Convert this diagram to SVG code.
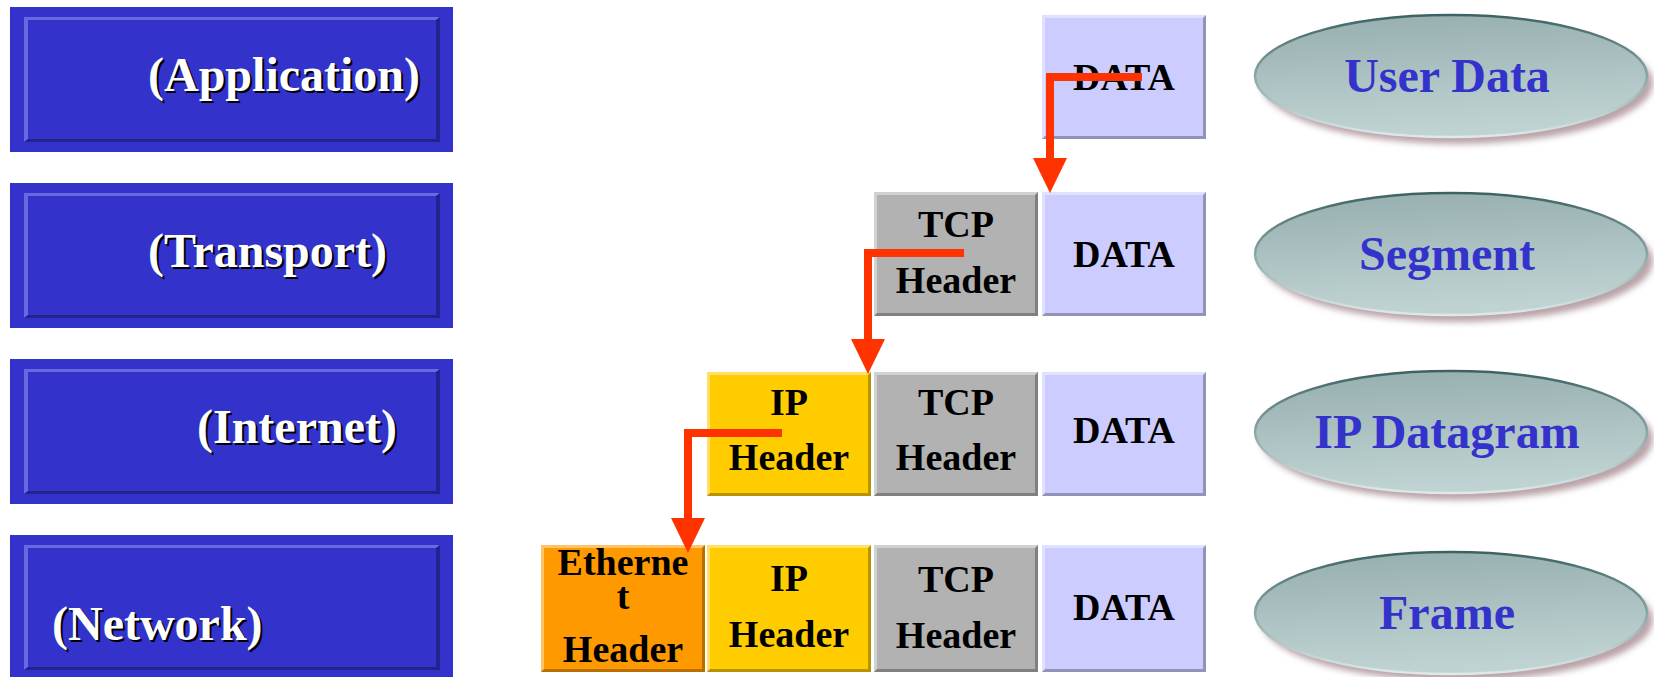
<svg xmlns="http://www.w3.org/2000/svg" xmlns:xlink="http://www.w3.org/1999/xlink" width="1654" height="677" viewBox="0 0 1654 677">
  <style>
    .layer-text { font-family: "Liberation Serif", "Times New Roman", serif; font-weight: bold; font-size: 48px; fill: #ffffff; }
    .layer-shadow { font-family: "Liberation Serif", "Times New Roman", serif; font-weight: bold; font-size: 48px; fill: #000000; }
    .cell-text { font-family: "Liberation Serif", "Times New Roman", serif; font-weight: bold; font-size: 38px; fill: #000000; text-anchor: middle; }
    .unit-text { font-family: "Liberation Serif", "Times New Roman", serif; font-weight: bold; font-size: 48px; fill: #3333cc; text-anchor: middle; }
    .data { fill: #ccccff; }
    .tcp { fill: #b2b2b2; }
    .ip { fill: #ffcc00; }
    .eth { fill: #ff9900; }
    .hi { fill: #ffffff; fill-opacity: 0.4; }
    .lo { fill: #000000; fill-opacity: 0.28; }
    .flow { fill: none; stroke: #ff3300; stroke-width: 8; marker-end: url(#head); }
  </style>
  <defs>
    <!-- layer box: blue panel with bevelled inner frame -->
    <g id="layerBox">
      <rect x="0" y="0" width="443" height="145" fill="#3333cc"/>
      <polygon points="14,10 430,10 427,13 18,13 18,132 14,135" fill="#6a6ae0"/>
      <polygon points="430,10 430,135 14,135 18,132 426,132 426,13" fill="#23238f"/>
    </g>
    <!-- bevel overlay for packet cells -->
    <g id="cellBevel">
      <polygon class="hi" points="0,0 164,0 161,3 3,3 3,121 0,124"/>
      <polygon class="lo" points="164,0 164,124 0,124 3,121 161,121 161,3"/>
    </g>
    <linearGradient id="ovalFill" x1="0" y1="0" x2="0.15" y2="1">
      <stop offset="0" stop-color="#96aeae"/>
      <stop offset="1" stop-color="#c0d3d3"/>
    </linearGradient>
    <linearGradient id="ovalRim" x1="0" y1="0" x2="0" y2="1">
      <stop offset="0" stop-color="#3e6262"/>
      <stop offset="0.5" stop-color="#8aa6a6"/>
      <stop offset="1" stop-color="#dfe9e9"/>
    </linearGradient>
    <filter id="soft" x="-10%" y="-20%" width="120%" height="140%">
      <feGaussianBlur stdDeviation="3"/>
    </filter>
    <g id="oval">
      <ellipse cx="6" cy="7" rx="196" ry="61" fill="#a88c92" opacity="0.8" filter="url(#soft)"/>
      <ellipse cx="0" cy="0" rx="196" ry="61" fill="url(#ovalFill)" stroke="url(#ovalRim)" stroke-width="2.5"/>
    </g>
    <marker id="head" markerUnits="userSpaceOnUse" viewBox="0 0 35 34" markerWidth="35" markerHeight="34" refX="0" refY="17" orient="auto">
      <path d="M0,0 L35,17 L0,34 Z" fill="#ff3300"/>
    </marker>
  </defs>

  <!-- protocol layers -->
  <g id="layer-application">
    <use xlink:href="#layerBox" x="10" y="7"/>
    <text class="layer-shadow" x="150" y="93">(Application)</text>
    <text class="layer-text" x="148" y="91">(Application)</text>
  </g>
  <g id="layer-transport">
    <use xlink:href="#layerBox" x="10" y="183"/>
    <text class="layer-shadow" x="150" y="269">(Transport)</text>
    <text class="layer-text" x="148" y="267">(Transport)</text>
  </g>
  <g id="layer-internet">
    <use xlink:href="#layerBox" x="10" y="359"/>
    <text class="layer-shadow" x="199" y="445">(Internet)</text>
    <text class="layer-text" x="197" y="443">(Internet)</text>
  </g>
  <g id="layer-network">
    <use xlink:href="#layerBox" x="10" y="535"/>
    <text class="layer-shadow" x="54" y="642">(Network)</text>
    <text class="layer-text" x="52" y="640">(Network)</text>
  </g>

  <!-- application row -->
  <g id="app-data">
    <rect class="data" x="1042" y="15" width="164" height="124"/>
    <use xlink:href="#cellBevel" x="1042" y="15"/>
    <text class="cell-text" x="1124" y="90">DATA</text>
  </g>

  <!-- transport row -->
  <g id="seg-tcp">
    <rect class="tcp" x="874" y="192" width="164" height="124"/>
    <use xlink:href="#cellBevel" x="874" y="192"/>
    <text class="cell-text" x="956" y="237">TCP</text>
    <text class="cell-text" x="956" y="293">Header</text>
  </g>
  <g id="seg-data">
    <rect class="data" x="1042" y="192" width="164" height="124"/>
    <use xlink:href="#cellBevel" x="1042" y="192"/>
    <text class="cell-text" x="1124" y="267">DATA</text>
  </g>

  <!-- internet row -->
  <g id="dgram-ip">
    <rect class="ip" x="707" y="372" width="164" height="124"/>
    <use xlink:href="#cellBevel" x="707" y="372"/>
    <text class="cell-text" x="789" y="415">IP</text>
    <text class="cell-text" x="789" y="470">Header</text>
  </g>
  <g id="dgram-tcp">
    <rect class="tcp" x="874" y="372" width="164" height="124"/>
    <use xlink:href="#cellBevel" x="874" y="372"/>
    <text class="cell-text" x="956" y="415">TCP</text>
    <text class="cell-text" x="956" y="470">Header</text>
  </g>
  <g id="dgram-data">
    <rect class="data" x="1042" y="372" width="164" height="124"/>
    <use xlink:href="#cellBevel" x="1042" y="372"/>
    <text class="cell-text" x="1124" y="443">DATA</text>
  </g>

  <!-- network row -->
  <g id="frame-eth">
    <rect class="eth" x="541" y="545" width="164" height="127"/>
    <use xlink:href="#cellBevel" transform="translate(541,545) scale(1,1.024)"/>
    <text class="cell-text" x="623" y="575">Etherne</text>
    <text class="cell-text" x="623" y="609">t</text>
    <text class="cell-text" x="623" y="662">Header</text>
  </g>
  <g id="frame-ip">
    <rect class="ip" x="707" y="545" width="164" height="127"/>
    <use xlink:href="#cellBevel" transform="translate(707,545) scale(1,1.024)"/>
    <text class="cell-text" x="789" y="591">IP</text>
    <text class="cell-text" x="789" y="647">Header</text>
  </g>
  <g id="frame-tcp">
    <rect class="tcp" x="874" y="545" width="164" height="127"/>
    <use xlink:href="#cellBevel" transform="translate(874,545) scale(1,1.024)"/>
    <text class="cell-text" x="956" y="592">TCP</text>
    <text class="cell-text" x="956" y="648">Header</text>
  </g>
  <g id="frame-data">
    <rect class="data" x="1042" y="545" width="164" height="127"/>
    <use xlink:href="#cellBevel" transform="translate(1042,545) scale(1,1.024)"/>
    <text class="cell-text" x="1124" y="620">DATA</text>
  </g>

  <!-- unit names -->
  <g id="unit-user-data">
    <use xlink:href="#oval" x="1451" y="76"/>
    <text class="unit-text" x="1447" y="92">User Data</text>
  </g>
  <g id="unit-segment">
    <use xlink:href="#oval" x="1451" y="254"/>
    <text class="unit-text" x="1447" y="270">Segment</text>
  </g>
  <g id="unit-datagram">
    <use xlink:href="#oval" x="1451" y="432"/>
    <text class="unit-text" x="1447" y="448">IP Datagram</text>
  </g>
  <g id="unit-frame">
    <use xlink:href="#oval" x="1451" y="613"/>
    <text class="unit-text" x="1447" y="629">Frame</text>
  </g>

  <!-- encapsulation arrows -->
  <g id="connectors">
    <path class="flow" d="M1142,77 H1050 V158"/>
    <path class="flow" d="M964,253 H868 V339"/>
    <path class="flow" d="M782,433 H688 V518"/>
  </g>
</svg>
